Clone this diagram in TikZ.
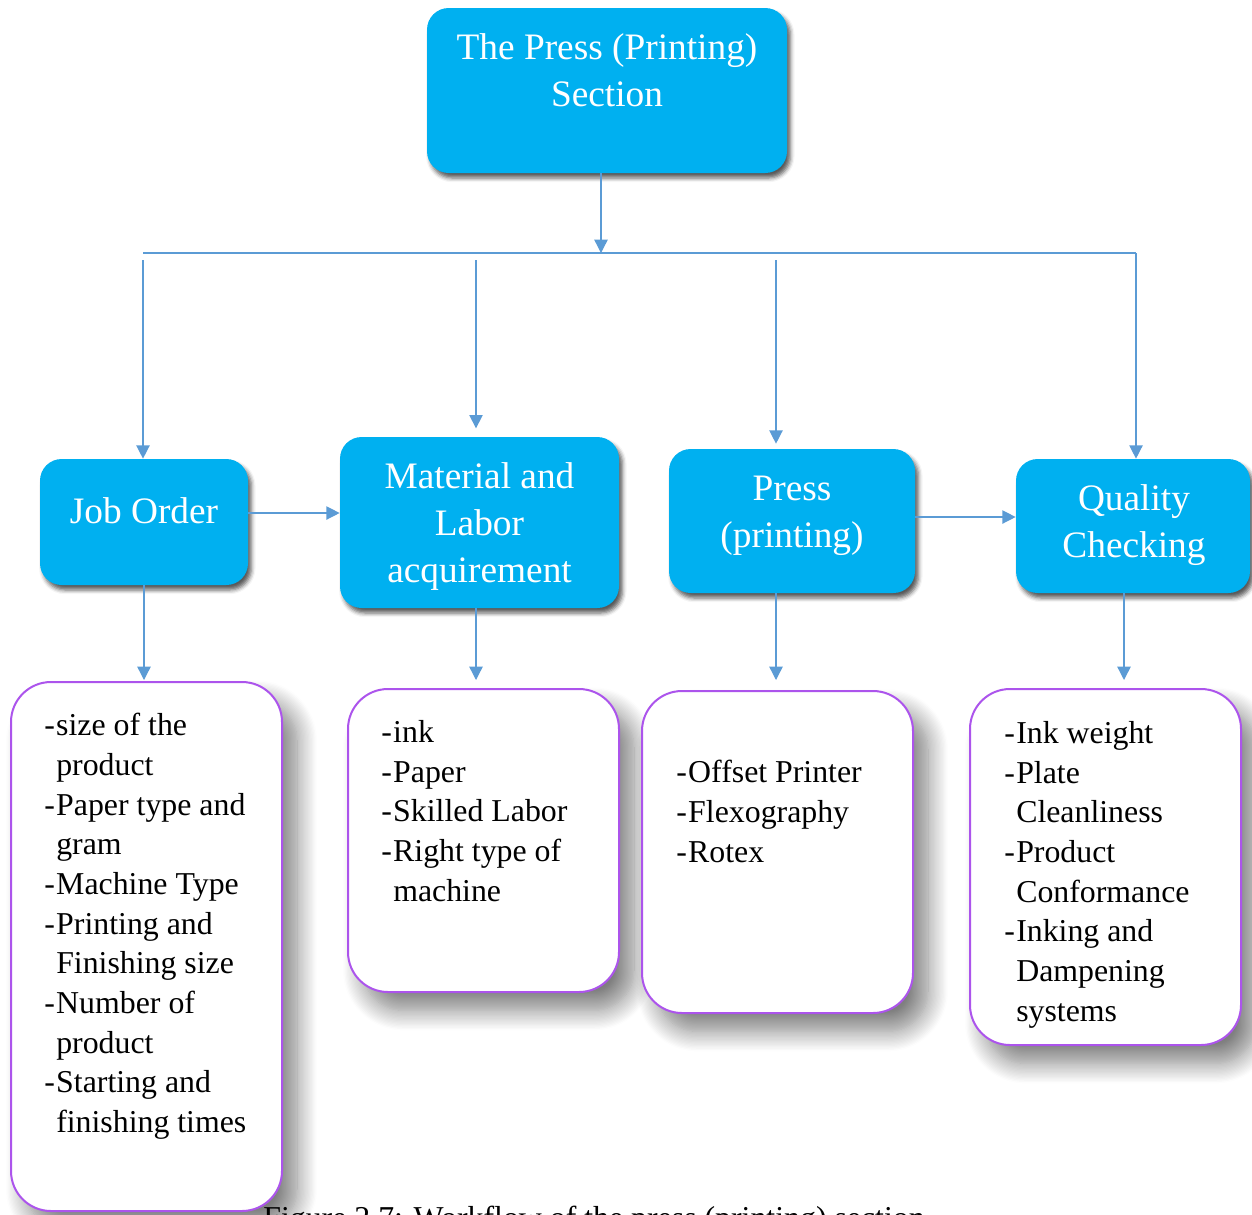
\documentclass[tikz,border=0pt]{standalone}
\usepackage{fontspec}
\setmainfont{Liberation Serif}
\usetikzlibrary{arrows.meta,shadows.blur}
\definecolor{boxblue}{RGB}{0,176,240}
\definecolor{arrblue}{RGB}{91,155,213}
\definecolor{lilac}{RGB}{172,84,236}
\newcommand\lidash{-\kern0.8pt}
\newcommand\liind{\hphantom{\lidash}}
\begin{document}
\begin{tikzpicture}[x=0.6pt,y=-0.6pt,
  bluebox/.style={fill=boxblue,draw=none,rounded corners=13pt,inner sep=0pt,
    blur shadow={shadow xshift=2pt,shadow yshift=-3pt,shadow blur radius=2.5pt,shadow opacity=65}},
  bluetext/.style={text=white,align=center,inner sep=0pt,font=\fontsize{22.4}{28.2}\selectfont},
  listbox/.style={fill=white,draw=lilac,line width=1.2pt,rounded corners=24pt,inner sep=0pt,
    blur shadow={shadow xshift=9pt,shadow yshift=-11pt,shadow blur radius=12pt,shadow blur steps=16,shadow opacity=50}},
  listtext/.style={align=left,anchor=north west,inner sep=0pt,font=\fontsize{19.1}{23.8}\selectfont},
  conn/.style={draw=arrblue,line width=0.8pt},
  arr/.style={conn,-{Triangle[length=8pt,width=8pt]}}]
\useasboundingbox (0,0) rectangle (1252,1214);

% caption (cut by page edge, as in the reference)
\node[anchor=base west,inner sep=0pt,font=\fontsize{19.1}{24}\selectfont] (caption) at (263,1228)
  {Figure 2.7: Workflow of the press (printing) section};

% list boxes
\node[listbox,minimum width=162.6pt,minimum height=317.4pt] (l1) at (146.5,946.5) {};
\node[listbox,minimum width=162.6pt,minimum height=181.8pt] (l2) at (483.5,840.5) {};
\node[listbox,minimum width=162.6pt,minimum height=193.2pt] (l3) at (777.5,852) {};
\node[listbox,minimum width=162.6pt,minimum height=213.6pt] (l4) at (1105.5,867) {};

\node[listtext] (t1) at (44,713) {\lidash size of the\\\liind product\\\lidash Paper type and\\\liind gram\\\lidash Machine Type\\\lidash Printing and\\\liind Finishing size\\\lidash Number of\\\liind product\\\lidash Starting and\\\liind finishing times};
\node[listtext] (t2) at (381,720) {\lidash ink\\\lidash Paper\\\lidash Skilled Labor\\\lidash Right type of\\\liind machine};
\node[listtext] (t3) at (676,760) {\lidash Offset Printer\\\lidash Flexography\\\lidash Rotex};
\node[listtext] (t4) at (1004,721) {\lidash Ink weight\\\lidash Plate\\\liind Cleanliness\\\lidash Product\\\liind Conformance\\\lidash Inking and\\\liind Dampening\\\liind systems};

% blue boxes
\node[bluebox,minimum width=216pt,minimum height=99pt] (top) at (607,90.5) {};
\node[bluetext] (toptext) at (607,70.5) {The Press (Printing)\\Section};
\node[bluebox,minimum width=124.8pt,minimum height=75.6pt] (job) at (144,522) {};
\node[bluetext] (jobtext) at (144,511) {Job Order};
\node[bluebox,minimum width=167.4pt,minimum height=102.6pt] (mat) at (479.5,522.5) {};
\node[bluetext] (mattext) at (479.5,527) {Material and\\Labor\\acquirement};
\node[bluebox,minimum width=147.6pt,minimum height=86.4pt] (press) at (792,521) {};
\node[bluetext] (presstext) at (792,516) {Press\\(printing)};
\node[bluebox,minimum width=140.4pt,minimum height=80.4pt] (qual) at (1133,526) {};
\node[bluetext] (qualtext) at (1134,525) {Quality\\Checking};

% connectors
\coordinate (bus) at (601,253);
\coordinate (busL) at (143,253);
\coordinate (busR) at (1136,253);
\coordinate (b1) at (143,260);
\coordinate (b2) at (476,260);
\coordinate (b3) at (776,260);
\draw[arr] (top.south -| bus) -- (bus);
\draw[conn] (busL) -- (busR);
\draw[arr] (b1) -- (b1 |- job.north);
\draw[arr,shorten >=5pt] (b2) -- (b2 |- mat.north);
\draw[arr,shorten >=3pt] (b3) -- (b3 |- press.north);
\draw[arr] (busR) -- (busR |- qual.north);

\coordinate (h1) at (0,513);
\coordinate (h2) at (0,517);
\draw[arr] (job.east |- h1) -- (mat.west |- h1);
\draw[arr] (press.east |- h2) -- (qual.west |- h2);

\coordinate (d1) at (144,680);
\coordinate (d2) at (476,680);
\coordinate (d3) at (776,680);
\coordinate (d4) at (1124,680);
\draw[arr] (job.south -| d1) -- (d1);
\draw[arr] (mat.south -| d2) -- (d2);
\draw[arr] (press.south -| d3) -- (d3);
\draw[arr] (qual.south -| d4) -- (d4);
\end{tikzpicture}
\end{document}
